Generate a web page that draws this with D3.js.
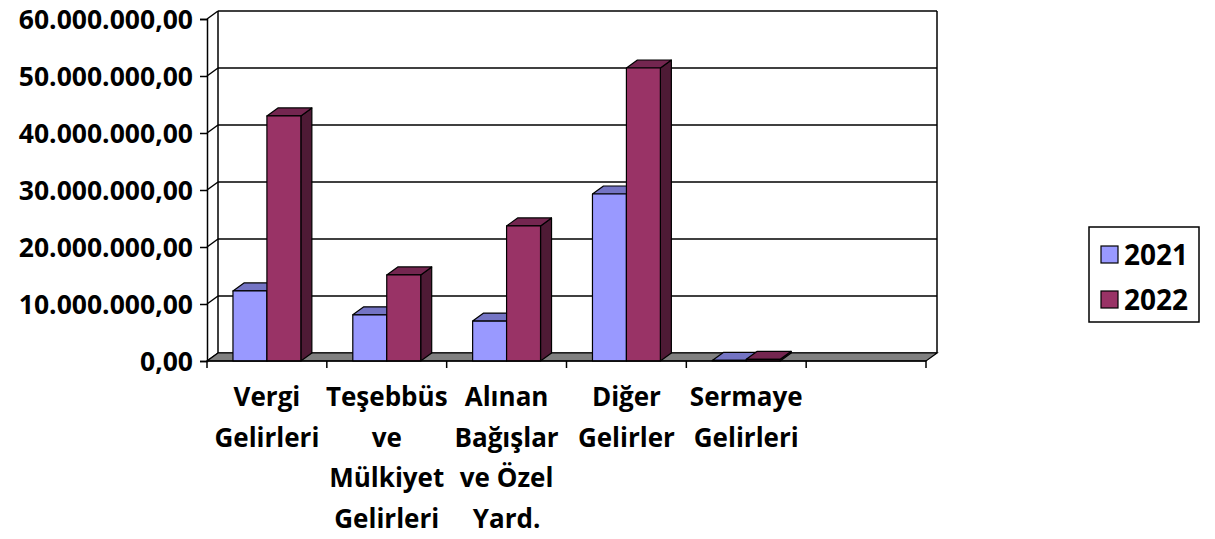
<!DOCTYPE html>
<html>
<head>
<meta charset="utf-8">
<script src="https://cdn.jsdelivr.net/npm/d3@7"></script>
<style>
  body { margin: 0; background: #fff; }
  text { font-family: "Open Sans", sans-serif; font-weight: bold; fill: #000; }
</style>
</head>
<body>
<div id="chart"></div>
<script>
// data
let categories = [
    ["Vergi", "Gelirleri"],
    ["Teşebbüs", "ve", "Mülkiyet", "Gelirleri"],
    ["Alınan", "Bağışlar", "ve Özel", "Yard."],
    ["Diğer", "Gelirler"],
    ["Sermaye", "Gelirleri"],
    []
];
let seriesNames = ["2021", "2022"];
let values2021 = [12300000, 8100000, 7000000, 29300000, 100000, null];
let values2022 = [43000000, 15100000, 23700000, 51400000, 300000, null];
let yTicks = [0, 10000000, 20000000, 30000000, 40000000, 50000000, 60000000];

let WIDTH = 1215, HEIGHT = 539,
    LEFT = 207, RIGHT = 926, TOP = 19, BOTTOM = 361,
    DX = 11, DY = -8;   // depth offset of the back wall

let colors = {
    "2021": {front: "#9999ff", top: "#7474c4", side: "#5c5ca0"},
    "2022": {front: "#993366", top: "#742650", side: "#4e1a35"}
};

let svg = d3.select("#chart").append("svg")
    .attr("width", WIDTH)
    .attr("height", HEIGHT);

let y = d3.scaleLinear().domain([0, 60000000]).range([BOTTOM, TOP]);

let x0 = d3.scaleBand()
    .domain(d3.range(categories.length))
    .range([LEFT, RIGHT]);

let x1 = d3.scaleBand()
    .domain(seriesNames)
    .range([0, x0.bandwidth()])
    .paddingOuter(0.765);

// back wall gridlines
let wall = svg.append("g").attr("stroke", "#000").attr("stroke-width", 1.5).attr("fill", "none");
wall.selectAll(".grid")
    .data(yTicks)
    .enter().append("line")
    .attr("x1", LEFT + DX).attr("x2", RIGHT + DX)
    .attr("y1", d => y(d) + DY).attr("y2", d => y(d) + DY);
wall.append("line")
    .attr("x1", LEFT + DX).attr("x2", LEFT + DX)
    .attr("y1", y(60000000) + DY).attr("y2", BOTTOM + DY);
wall.append("line")
    .attr("x1", RIGHT + DX).attr("x2", RIGHT + DX)
    .attr("y1", y(60000000) + DY).attr("y2", BOTTOM + DY);
// side wall connectors
wall.selectAll(".conn")
    .data(yTicks)
    .enter().append("line")
    .attr("x1", LEFT).attr("x2", LEFT + DX)
    .attr("y1", d => y(d)).attr("y2", d => y(d) + DY);

// floor
svg.append("path")
    .attr("d", `M${LEFT},${BOTTOM}L${RIGHT},${BOTTOM}L${RIGHT + DX},${BOTTOM + DY}L${LEFT + DX},${BOTTOM + DY}Z`)
    .attr("fill", "#808080")
    .attr("stroke", "#000")
    .attr("stroke-width", 1.2);

// bars
let bars = [];
categories.forEach((c, i) => {
    if (values2021[i] != null) bars.push({cat: i, s: "2021", v: values2021[i]});
    if (values2022[i] != null) bars.push({cat: i, s: "2022", v: values2022[i]});
});

let bar = svg.selectAll(".bar")
    .data(bars)
    .enter().append("g")
    .attr("stroke", "#000")
    .attr("stroke-width", 1.2)
    .attr("stroke-linejoin", "round");

bar.each(function (d) {
    let g = d3.select(this);
    let xl = x0(d.cat) + x1(d.s),
        xr = xl + x1.bandwidth(),
        yt = y(d.v);
    g.append("path")
        .attr("d", `M${xr},${BOTTOM}L${xr + DX},${BOTTOM + DY}L${xr + DX},${yt + DY}L${xr},${yt}Z`)
        .attr("fill", colors[d.s].side);
    g.append("path")
        .attr("d", `M${xl},${yt}L${xl + DX},${yt + DY}L${xr + DX},${yt + DY}L${xr},${yt}Z`)
        .attr("fill", colors[d.s].top);
    g.append("rect")
        .attr("x", xl).attr("y", yt)
        .attr("width", xr - xl).attr("height", BOTTOM - yt)
        .attr("fill", colors[d.s].front);
});

// y axis
let yAxis = svg.append("g")
    .attr("transform", `translate(${LEFT},0)`)
    .call(d3.axisLeft(y)
        .tickValues(yTicks)
        .tickSize(7)
        .tickPadding(7)
        .tickFormat(d => d3.format(",.2f")(d).replace(/,/g, "#").replace(".", ",").replace(/#/g, ".")));
yAxis.select(".domain").attr("stroke-width", 1.5);
yAxis.selectAll(".tick line").attr("stroke-width", 1.5);
yAxis.selectAll(".tick text")
    .attr("font-size", 26.5)
    .attr("font-family", "'Open Sans', sans-serif")
    .attr("font-weight", "bold")
    .attr("fill", "#000")
    .attr("dy", "0.35em");

// x axis: front baseline with ticks between categories
let xa = svg.append("g").attr("stroke", "#000").attr("stroke-width", 1.5);
xa.append("line")
    .attr("x1", LEFT).attr("x2", RIGHT)
    .attr("y1", BOTTOM).attr("y2", BOTTOM);
xa.selectAll(".xt")
    .data(d3.range(categories.length + 1))
    .enter().append("line")
    .attr("x1", i => LEFT + i * x0.step()).attr("x2", i => LEFT + i * x0.step())
    .attr("y1", BOTTOM).attr("y2", BOTTOM + 7);

// category labels
let lab = svg.selectAll(".xlab")
    .data(categories)
    .enter().append("text")
    .attr("text-anchor", "middle")
    .attr("font-size", 26);
lab.selectAll("tspan")
    .data((d, i) => d.map(t => ({t: t, i: i})))
    .enter().append("tspan")
    .attr("x", d => x0(d.i) + x0.bandwidth() / 2)
    .attr("y", (d, j) => 406 + j * 40.7)
    .text(d => d.t);

// legend
let legend = svg.append("g").attr("transform", "translate(1089,227)");
legend.append("rect")
    .attr("width", 110).attr("height", 95)
    .attr("fill", "#fff").attr("stroke", "#000").attr("stroke-width", 1.5);
let li = legend.selectAll(".li")
    .data(seriesNames)
    .enter().append("g")
    .attr("transform", (d, i) => `translate(12,${19 + i * 45})`);
li.append("rect")
    .attr("width", 17).attr("height", 17)
    .attr("fill", d => colors[d].front)
    .attr("stroke", "#000").attr("stroke-width", 1.2);
li.append("text")
    .attr("x", 23).attr("y", 9)
    .attr("dy", "0.36em")
    .attr("font-size", 28)
    .text(d => d);
</script>
</body>
</html>
